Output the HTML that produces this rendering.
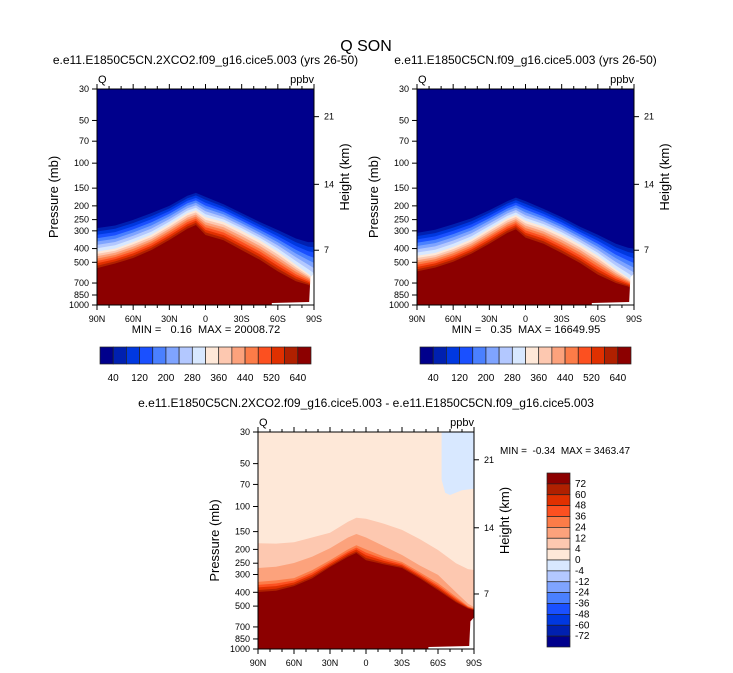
<!DOCTYPE html>
<html><head><meta charset="utf-8"><style>
body{margin:0;background:#fff}
svg{display:block;font-family:"Liberation Sans",Arial,sans-serif}
text{white-space:pre}
</style></head><body>
<svg id="c" width="733" height="673" viewBox="0 0 733 673"></svg>
<script>
const lats=[90,75,60,45,30,15,8,0,-15,-30,-45,-60,-75,-85,-90];
// panel 1 boundaries (pressure mb)
const p1Blue=[287,275,251,225,200,170,162,173,195,225,260,296,340,360,360];
const p1Mid=[420,400,360,320,270,225,215,240,260,300,350,420,520,600,650];
const p1Red=[549,510,466,410,348,290,273,321,350,410,480,580,680,720,760];
// panel 2 boundaries
const p2Blue=[310,295,270,245,215,185,175,185,210,240,280,320,370,395,400];
const p2Mid=[450,430,390,345,290,245,232,255,280,320,375,450,560,640,690];
const p2Red=[580,545,495,435,370,310,292,335,370,430,505,610,700,740,780];
// panel 3 (difference) boundaries
const d4=[181,182,178,165,153,128,120,122,132,146,170,202,250,275,279];
const d12=[270,265,249,225,196,165,156,165,190,219,260,302,400,480,508];
const d24=[338,330,318,280,238,200,187,200,225,245,290,345,430,500,520];
const d72=[398,390,362,320,266,225,212,238,255,270,320,386,470,520,534];
const negLat=[-63,-63,-66,-70,-80,-90];
const negP=[30,65,80,83,77,75];
const pTicks=[30,50,70,100,150,200,250,300,400,500,700,850,1000];
const hTicks=[7,14,21];
const hTickP=[411,141,47];
const latTicks=[90,60,30,0,-30,-60,-90];
const latLabels=["90N","60N","30N","0","30S","60S","90S"];
const cbTopLabels=["40","120","200","280","360","440","520","640"];
const cbDiffLabels=["72","60","48","36","24","12","4","0","-4","-12","-24","-36","-48","-60","-72"];
const colors=["#00008c","#0020b0","#0038e0","#1a50ff","#4a80ff","#7fa4ff","#b3c8ff","#d8e8ff","#fee8d8","#fdc8b0","#fca27c","#fc7c48","#fc5020","#e03000","#b02000","#8c0000"];

const S=document.getElementById('c');
const NS='http://www.w3.org/2000/svg';
function mk(t,a,parent){const e=document.createElementNS(NS,t);for(const k in a)e.setAttribute(k,a[k]);(parent||S).appendChild(e);return e;}
function txt(s,x,y,size,anchor,parent){const e=mk('text',{x:x,y:y,'font-size':size,'text-anchor':anchor||'middle',fill:'#000'},parent);e.textContent=s;return e;}

function panel(P,name){
  const g=mk('g',{});
  
  
  const X=lat=>P.x+(90-lat)/180*P.w;
  const Y=p=>P.y+Math.log(p/30)/Math.log(1000/30)*P.h;
  const clip='cl'+name;
  const cp=mk('clipPath',{id:clip},g);mk('rect',{x:P.x,y:P.y,width:P.w,height:P.h},cp);
  const gg=mk('g',{'clip-path':'url(#'+clip+')'},g);
  function below(arr,col,nm){
    let d='M'+X(lats[0])+','+(P.y+P.h+2);
    lats.forEach((l,i)=>{d+=' L'+X(l).toFixed(1)+','+Y(arr[i]).toFixed(1);});
    d+=' L'+X(lats[lats.length-1])+','+(P.y+P.h+2)+'Z';
    const e=mk('path',{d:d,fill:col},gg);
    
    
  }
  function interp(a,b,t){return a.map((v,i)=>Math.exp(Math.log(v)+(Math.log(b[i])-Math.log(v))*t));}
  mk('rect',{x:P.x,y:P.y,width:P.w,height:P.h,fill:P.base},gg);
  if(P.type==='abs'){
    const levels=[];
    for(let k=1;k<=15;k++){
      if(k<=8) levels.push(interp(P.blue,P.mid,(k-1)/7));
      else levels.push(interp(P.mid,P.red,(k-8)/7));
    }
    levels.forEach((arr,k)=>below(arr,colors[k+1],'contour-band-'+(k+1)));
  } else {
    below(d4,colors[9],'band-4-12');
    below(d12,colors[10],'band-12-24');
    below(d24,colors[11],'band-24-36');
    const t=[interp(d24,d72,0.3),interp(d24,d72,0.55),interp(d24,d72,0.8),d72];
    below(t[0],colors[12],'band-36-48');
    below(t[1],colors[13],'band-48-60');
    below(t[2],colors[14],'band-60-72');
    below(t[3],colors[15],'band-72-plus');
    let d='M'+X(negLat[0])+','+Y(negP[0]);
    negLat.forEach((l,i)=>{d+=' L'+X(l).toFixed(1)+','+Y(negP[i]).toFixed(1);});
    d+=' L'+X(-90)+','+Y(30)+'Z';
    const n=mk('path',{d:d,fill:colors[7]},gg);
    
    
  }
  mk('path',{d:'M'+X(P.gapLat)+','+(P.y+P.h)+' L'+X(P.gapLat)+','+(P.y+P.h-2)+' L'+X(-86)+','+(P.y+P.h-3)+' L'+X(-87)+','+Y(P.gapP)+' L'+X(-90)+','+Y(P.gapP-40)+' L'+X(-90)+','+(P.y+P.h)+'Z',fill:'#fff'},gg);
  mk('rect',{x:P.x,y:P.y,width:P.w,height:P.h,fill:'none',stroke:'#000','stroke-width':1},g);
  for(let l=90;l>=-90;l-=10){const maj=l%30===0;const x=X(l);
    mk('line',{x1:x,x2:x,y1:P.y+P.h,y2:P.y+P.h+(maj?5:3),stroke:'#000'},g);
    mk('line',{x1:x,x2:x,y1:P.y,y2:P.y-(maj?5:3),stroke:'#000'},g);}
  latTicks.forEach((l,i)=>{const t=txt(latLabels[i],X(l),P.y+P.h+17,9,'middle',g);});
  pTicks.forEach(p=>{const y=Y(p);mk('line',{x1:P.x-5,x2:P.x,y1:y,y2:y,stroke:'#000'},g);
    const t=txt(String(p),P.x-8,y+3,9,'end',g);});
  hTicks.forEach((h,i)=>{const y=Y(hTickP[i]);mk('line',{x1:P.x+P.w,x2:P.x+P.w+5,y1:y,y2:y,stroke:'#000'},g);
    const t=txt(String(h),P.x+P.w+10,y+3,9,'start',g);});
  const q=txt('Q',P.x+1,P.y-6,11,'start',g);
  const u=txt('ppbv',P.x+P.w,P.y-6,11,'end',g);
  const yt=txt('Pressure (mb)',0,0,13,'middle',g);yt.setAttribute('transform','translate('+(P.x-39)+','+(P.y+P.h/2)+') rotate(-90)');
  
  const ht=txt('Height (km)',0,0,13,'middle',g);ht.setAttribute('transform','translate('+(P.x+P.w+35)+','+(P.y+P.h/2-20)+') rotate(-90)');
  
  const st=txt(P.title,P.x+P.w/2,P.y-25,12,'middle',g);
}

const tt=txt('Q SON',366,51,16);



panel({x:97,y:89,w:217,h:216,type:'abs',base:colors[0],blue:p1Blue,mid:p1Mid,red:p1Red,gapLat:-55,gapP:640,title:'e.e11.E1850C5CN.2XCO2.f09_g16.cice5.003 (yrs 26-50)'},'panel-2xco2');
panel({x:417,y:89,w:217,h:216,type:'abs',base:colors[0],blue:p2Blue,mid:p2Mid,red:p2Red,gapLat:-55,gapP:640,title:'e.e11.E1850C5CN.f09_g16.cice5.003 (yrs 26-50)'},'panel-control');
panel({x:258,y:432,w:216,h:217,type:'diff',base:colors[8],gapLat:-52,gapP:640,title:'e.e11.E1850C5CN.2XCO2.f09_g16.cice5.003 - e.e11.E1850C5CN.f09_g16.cice5.003'},'panel-difference');

let m=txt('MIN =   0.16  MAX = 20008.72',206,333,11);
m=txt('MIN =   0.35  MAX = 16649.95',526,333,11);
m=txt('MIN =  -0.34  MAX = 3463.47',500,454,10,'start');

function hbar(x0,name){
  const g=mk('g',{});
  const w=211/16;
  colors.forEach((c,i)=>{const r=mk('rect',{x:x0+i*w,y:347,width:w,height:17,fill:c,stroke:'#222','stroke-width':0.7},g);
    });
  cbTopLabels.forEach((s,i)=>{const t=txt(s,x0+(1+2*i)*w,381,10,'middle',g);});
}
hbar(100,'colorbar-1');hbar(420,'colorbar-2');
(function(){
  const g=mk('g',{});
  const h=174/16;
  colors.slice().reverse().forEach((c,i)=>{const r=mk('rect',{x:547,y:473+i*h,width:23,height:h,fill:c,stroke:'#222','stroke-width':0.7},g);
    });
  cbDiffLabels.forEach((s,i)=>{const t=txt(s,575,473+(i+1)*h+3,10,'start',g);});
})();
</script>
</body></html>
